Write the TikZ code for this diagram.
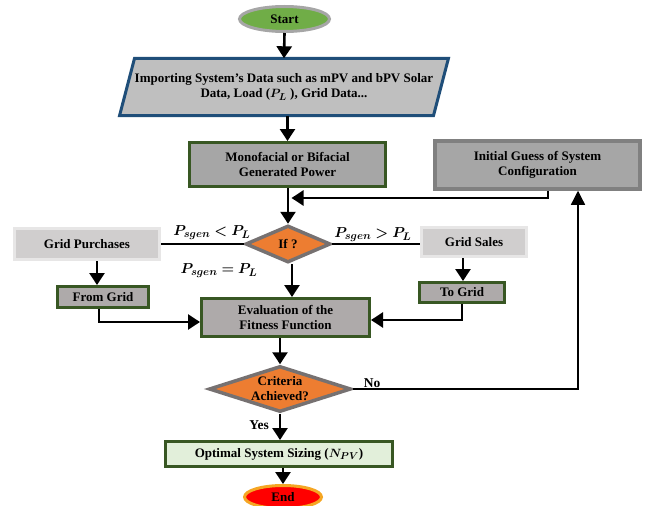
\documentclass[tikz,border=0pt]{standalone}
\usepackage{fontspec}
\setmainfont{Liberation Serif}
\usepackage{amsmath,bm}
\DeclareMathSizes{13}{13}{10}{8}
\DeclareMathSizes{13.5}{13.5}{10.5}{8}
\usetikzlibrary{shapes.geometric,arrows.meta,backgrounds}
\definecolor{startg}{HTML}{70AD47}
\definecolor{ringgray}{HTML}{A6A6A6}
\definecolor{darkblue}{HTML}{1F4E79}
\definecolor{datafill}{HTML}{BFBFBF}
\definecolor{midgray}{HTML}{A6A6A6}
\definecolor{dkgreen}{HTML}{385723}
\definecolor{initborder}{HTML}{808080}
\definecolor{orangef}{HTML}{ED7D31}
\definecolor{diaborder}{HTML}{767171}
\definecolor{lightfill}{HTML}{D0CECE}
\definecolor{lightborder}{HTML}{E7E6E6}
\definecolor{warmgray}{HTML}{AEAAAA}
\definecolor{palegreen}{HTML}{E2EFDA}
\definecolor{endred}{HTML}{FF0000}
\definecolor{endring}{HTML}{F5A623}
\begin{document}
\begin{tikzpicture}[x=1pt,y=-1pt,
  txt/.style={font=\fontsize{13}{15}\selectfont\bfseries, align=center, text=black, inner sep=0pt},
  box/.style={txt, draw, line width=3pt, rectangle},
  ell/.style={txt, ellipse, draw, line width=3pt},
  dia/.style={diamond, draw=diaborder, fill=orangef, line width=3.5pt, inner sep=0pt},
  arr/.style={line width=2.6pt, -{Triangle[width=15pt,length=12pt]}},
  ln/.style={line width=2.6pt},
  thinarr/.style={line width=1.3pt, -{Triangle[width=14pt,length=14pt]}},
  lab/.style={font=\fontsize{13.5}{15}\selectfont\bfseries, inner sep=0pt}
]
\useasboundingbox (0,0) rectangle (646,506);

% nodes
\node[ell, fill=startg, draw=ringgray, minimum width=90pt, minimum height=25pt] (start) at (284.5,19) {Start};
\node[txt, minimum width=295pt, minimum height=57pt] (data) at (284,87)
  {Importing System’s Data such as mPV and bPV Solar\\Data, Load ($\bm{P_L}$ ), Grid Data...};
\begin{scope}[on background layer]
\draw[line width=3pt, draw=darkblue, fill=datafill, line join=miter]
  (data.north west) -- ([xshift=15pt]data.north east) -- (data.south east)
  -- ([xshift=-15pt]data.south west) -- cycle;
\end{scope}
\node[box, fill=midgray, draw=dkgreen, minimum width=196pt, minimum height=44pt] (mono) at (287.5,164.5)
  {Monofacial or Bifacial\\Generated Power};
\node[box, fill=midgray, draw=initborder, line width=3.5pt, minimum width=205pt, minimum height=48pt] (init) at (537.5,165)
  {Initial Guess of System\\Configuration};
\node[dia, minimum width=85pt, minimum height=37pt] (if) at (288,244) {};
\node[txt] at (if) {If ?};
\node[box, fill=lightfill, draw=lightborder, minimum width=145pt, minimum height=31pt] (gp) at (87,244) {Grid Purchases};
\node[box, fill=lightfill, draw=lightborder, minimum width=105pt, minimum height=29pt] (gs) at (474,242) {Grid Sales};
\node[box, fill=warmgray, draw=dkgreen, minimum width=91pt, minimum height=21pt] (fg) at (103,297) {From Grid};
\node[box, fill=warmgray, draw=dkgreen, minimum width=85pt, minimum height=20pt] (tg) at (462,292.5) {To Grid};
\node[box, fill=warmgray, draw=dkgreen, minimum width=168pt, minimum height=38pt] (eval) at (285.5,317.5)
  {Evaluation of the\\Fitness Function};
\node[dia, minimum width=142pt, minimum height=46pt] (crit) at (280,389) {};
\node[txt] at (crit) {Criteria\\Achieved?};
\node[box, fill=palegreen, draw=dkgreen, minimum width=227pt, minimum height=25pt] (opt) at (279,454)
  {Optimal System Sizing ($\bm{N_{PV}}$)};
\node[ell, fill=endred, draw=endring, minimum width=77pt, minimum height=23pt] (end) at (283,497) {End};

% labels
\node[lab] at (212,233) {$\bm{P_{sgen} < P_L}$};
\node[lab] at (219,271) {$\bm{P_{sgen} = P_L}$};
\node[lab] at (373,235) {$\bm{P_{sgen} > P_L}$};
\node[lab] at (372,383) {No};
\node[lab] at (259,425) {Yes};

% connectors
\coordinate (jn) at (291.5,198);
\draw[arr] (start.south) -- (data.north);
\draw[arr] (data.south -| mono.north) -- (mono.north);
\draw[arr] (mono.south -| if.north) -- (if.north);
\draw[arr] ([xshift=10.5pt]init.south) |- (jn);
\draw[ln] (gp.east) -- (if.west);
\draw[ln] (if.east) -- (gs.west |- if.east);
\draw[arr] ([xshift=10pt]gp.south) -- ([xshift=10pt]gp.south |- fg.north);
\draw[arr] ([xshift=-4pt]fg.south) |- ([yshift=-4.5pt]eval.west);
\draw[arr] ([xshift=-11pt]gs.south) -- ([xshift=-11pt]gs.south |- tg.north);
\draw[arr] (tg.south) |- ([yshift=-2.5pt]eval.east);
\draw[arr] ([xshift=4pt]if.south) -- ([xshift=4pt]if.south |- eval.north);
\draw[arr] (eval.south -| crit.north) -- (crit.north);
\draw[thinarr] (crit.east) -| ([xshift=40.5pt]init.south);
\draw[arr] (crit.south) -- (crit.south |- opt.north);
\draw[arr] (opt.south -| end.north) -- (end.north);
\end{tikzpicture}
\end{document}
